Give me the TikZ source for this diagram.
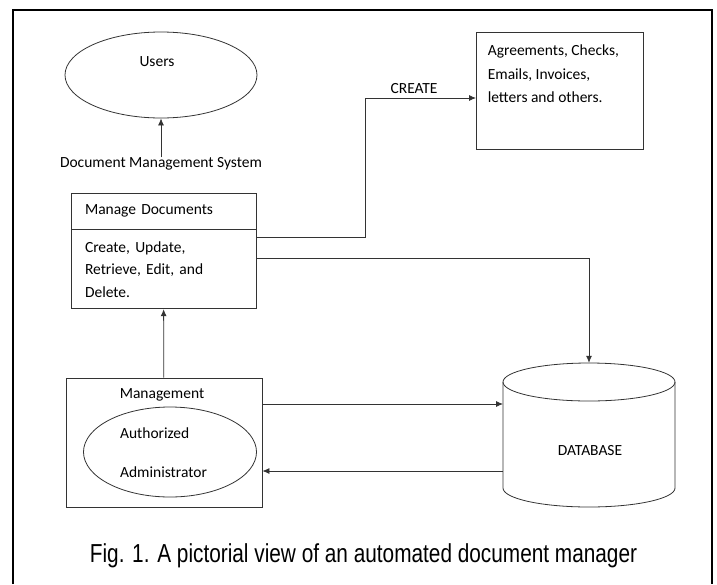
\documentclass[tikz,border=0pt]{standalone}
\usepackage{fontspec}
\setmainfont{Carlito}
\newfontfamily\capfont{Liberation Sans}
\usetikzlibrary{arrows.meta,positioning,shapes.geometric}

\tikzset{
  line/.style={draw=black!80, line width=0.8pt},
  box/.style={line, rectangle, inner sep=0pt},
  oval/.style={line, ellipse, inner sep=0pt},
  arr/.style={line, -{Latex[length=7pt,width=6pt]}},
  txt/.style={font=\fontsize{15.5}{22.5}\selectfont, inner sep=0pt},
}

\begin{document}
\begin{tikzpicture}[x=1pt,y=-1pt]
  \useasboundingbox (0,0) rectangle (717,584);

  % Frame
  \draw[line width=2pt] (13,584) |- (712,10) -- (712,584);

  % Users
  \node[oval, minimum width=192pt, minimum height=86pt] (users) at (161,75) {};
  \node[txt] (userslbl) at (157,62) {Users};
  \node[txt] (dms) at (161,164) {Document Management System};
  \draw[arr] (dms) -- (users);

  % Manage documents
  \node[box, txt, inner xsep=14pt, text width=157pt, minimum height=36pt, align=left] (mdhead) at (163.5,211) {Manage Documents};
  \node[box, txt, inner xsep=14pt, text width=157pt, minimum height=79pt, align=left, below=0pt of mdhead] (mdbody) {Create, Update,\\Retrieve, Edit, and\\Delete.};

  % Documents created
  \node[box, minimum width=167pt, minimum height=117pt] (agree) at (559.5,90.5) {};
  \node[txt, anchor=north west, align=left] (agreetxt) at ([xshift=12pt,yshift=-13pt]agree.north west) {Agreements, Checks,\\[1pt]Emails, Invoices,\\[1pt]letters and others.};
  \coordinate (createin) at (476,98);
  \draw[arr] ([yshift=-8pt]mdbody.north east) -- ++(109,0) |- node[txt, above=4pt, pos=0.72] (createlbl) {CREATE} (createin);

  % Database
  \node[txt, minimum width=172pt, minimum height=144pt] (db) at (589,435) {};
  \node[txt] (dblbl) at (590,451) {DATABASE};
  \draw[line] (589,382) ellipse [x radius=86, y radius=19];
  \draw[line] (503,382) -- (503,488) arc [start angle=180, end angle=0, x radius=86, y radius=19] -- (675,382);
  \draw[arr] ([yshift=-29pt]mdbody.north east) -| (db.north);

  % Management
  \node[box, minimum width=196pt, minimum height=129pt] (mgmt) at (164,442.5) {};
  \node[txt] (mgmtlbl) at (162,395) {Management};
  \node[oval, minimum width=173pt, minimum height=90pt] (admin) at (170,452) {};
  \node[txt, align=left, font=\fontsize{15.5}{39}\selectfont] (adminlbl) at (163.5,452.5) {Authorized\\Administrator};
  \draw[arr] (mgmt) -- (mdbody);

  \coordinate (dbin) at (503,404);
  \coordinate (dbout) at (503,471);
  \draw[arr] (mgmt.east |- dbin) -- (dbin);
  \draw[arr] (dbout) -- (mgmt.east |- dbout);

  % Caption
  \node[font=\capfont\fontsize{26}{30}\selectfont, inner sep=0pt] (caption) at (363.5,556) {\scalebox{0.8}[1]{Fig. 1. A pictorial view of an automated document manager}};
\end{tikzpicture}
\end{document}
